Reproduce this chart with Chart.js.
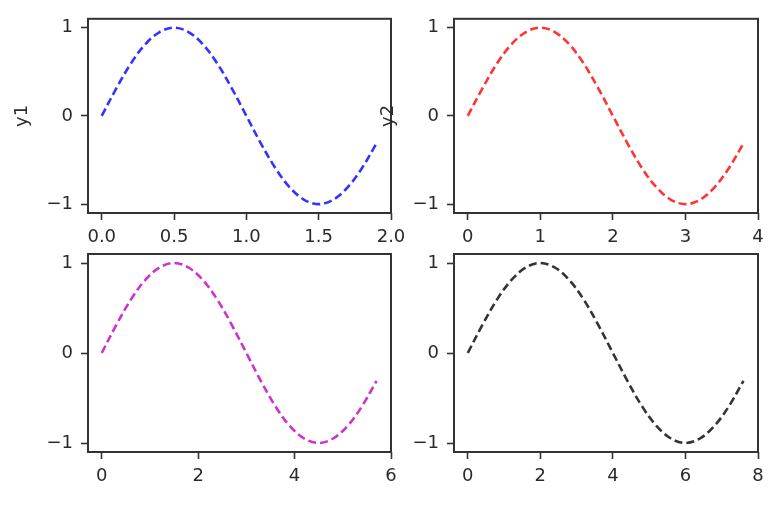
<!DOCTYPE html>
<html>
<head>
<meta charset="utf-8">
<script src="https://cdn.jsdelivr.net/npm/chart.js@4.4.0/dist/chart.umd.min.js"></script>
<style>
  html, body { margin: 0; padding: 0; background: #fff; }
  #wrap { position: relative; width: 780px; height: 512px; }
  #wrap canvas { position: absolute; left: 0; top: 0; }
</style>
</head>
<body>
<div id="wrap">
  <canvas id="c1" width="780" height="512"></canvas>
  <canvas id="c2" width="780" height="512"></canvas>
  <canvas id="c3" width="780" height="512"></canvas>
  <canvas id="c4" width="780" height="512"></canvas>
</div>
<script>
// values, one sample every 1/20 of the range
const x1 = [0, 0.1, 0.2, 0.3, 0.4, 0.5, 0.6, 0.7, 0.8, 0.9, 1.0, 1.1, 1.2, 1.3, 1.4, 1.5, 1.6, 1.7, 1.8, 1.9];
const x2 = [0, 0.2, 0.4, 0.6, 0.8, 1.0, 1.2, 1.4, 1.6, 1.8, 2.0, 2.2, 2.4, 2.6, 2.8, 3.0, 3.2, 3.4, 3.6, 3.8];
const x3 = [0, 0.3, 0.6, 0.9, 1.2, 1.5, 1.8, 2.1, 2.4, 2.7, 3.0, 3.3, 3.6, 3.9, 4.2, 4.5, 4.8, 5.1, 5.4, 5.7];
const x4 = [0, 0.4, 0.8, 1.2, 1.6, 2.0, 2.4, 2.8, 3.2, 3.6, 4.0, 4.4, 4.8, 5.2, 5.6, 6.0, 6.4, 6.8, 7.2, 7.6];
const wave = [0, 0.31, 0.59, 0.81, 0.95, 1, 0.95, 0.81, 0.59, 0.31, 0, -0.31, -0.59, -0.81, -0.95, -1, -0.95, -0.81, -0.59, -0.31];

const yTicks = [-1, 0, 1];
const xTicks1 = [0, 0.5, 1.0, 1.5, 2.0];
const xTicks2 = [0, 1, 2, 3, 4];
const xTicks3 = [0, 2, 4, 6];
const xTicks4 = [0, 2, 4, 6, 8];

const FONT = { family: 'DejaVu Sans', size: 18 };
const INK = '#2b2b2b';

const frame = {
  id: 'frame',
  afterDraw(chart) {
    const a = chart.chartArea, ctx = chart.ctx;
    ctx.save();
    ctx.strokeStyle = '#333';
    ctx.lineWidth = 2;
    ctx.strokeRect(a.left, a.top, a.right - a.left, a.bottom - a.top);
    ctx.restore();
  }
};

const minus = v => v < 0 ? '\u2212' + Math.abs(v) : String(v);

function panel(id, xs, ys, color, o) {
  return new Chart(document.getElementById(id), {
    type: 'line',
    data: { datasets: [{ data: xs.map((x, i) => ({ x, y: ys[i] })), borderColor: color, borderWidth: 2.6, borderDash: [8, 4], pointRadius: 0, tension: 0.35, fill: false }] },
    options: {
      responsive: false, animation: false, events: [],
      layout: { padding: o.pad },
      plugins: { legend: { display: false }, tooltip: { enabled: false } },
      scales: {
        x: {
          type: 'linear', min: o.xmin, max: o.xmax,
          afterBuildTicks: s => { s.ticks = o.xt.map(v => ({ value: v })); },
          afterFit: s => { s.height = 34; },
          grid: { display: true, drawOnChartArea: false, tickLength: 7, tickColor: '#333', tickWidth: 1.6 },
          border: { display: false },
          ticks: { color: INK, font: FONT, padding: 7, maxRotation: 0, autoSkip: false, callback: o.xfmt || (v => String(v)) }
        },
        y: {
          min: -1.1, max: 1.1,
          afterBuildTicks: s => { s.ticks = yTicks.map(v => ({ value: v })); },
          afterFit: s => { s.width = o.yw; },
          grid: { display: true, drawOnChartArea: false, tickLength: 7, tickColor: '#333', tickWidth: 1.6 },
          border: { display: false },
          ticks: { color: INK, font: FONT, padding: 8, autoSkip: false, callback: minus },
          title: { display: !!o.title, text: o.title || '', color: INK, font: FONT, padding: { top: o.tpad || 0, bottom: 0 } }
        }
      }
    },
    plugins: [frame]
  });
}

panel('c1', x1, wave, 'rgba(0,0,255,0.8)', {
  pad: { left: 0, top: 15, right: 389, bottom: 512 - 213 - 34 },
  yw: 88, xmin: -0.095, xmax: 2.0, xt: xTicks1, xfmt: v => v.toFixed(1), title: 'y1', tpad: 12
});
panel('c2', x2, wave, 'rgba(255,0,0,0.8)', {
  pad: { left: 370, top: 15, right: 780 - 758, bottom: 512 - 213 - 34 },
  yw: 84, xmin: -0.19, xmax: 4.0, xt: xTicks2, title: 'y2', tpad: 8
});
panel('c3', x3, wave, 'rgba(191,0,191,0.8)', {
  pad: { left: 0, top: 254, right: 389, bottom: 512 - 452 - 34 },
  yw: 88, xmin: -0.285, xmax: 6.0, xt: xTicks3
});
panel('c4', x4, wave, 'rgba(0,0,0,0.8)', {
  pad: { left: 370, top: 254, right: 780 - 758, bottom: 512 - 452 - 34 },
  yw: 84, xmin: -0.38, xmax: 8.0, xt: xTicks4
});
</script>
</body>
</html>
